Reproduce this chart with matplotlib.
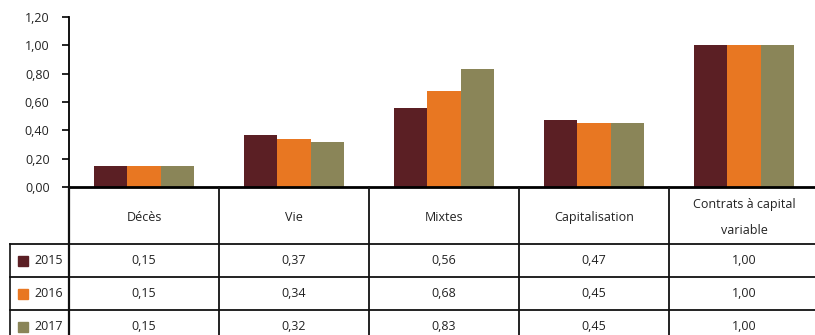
import numpy as np
import matplotlib.pyplot as plt

plt.rcParams['font.family'] = ['Open Sans', 'DejaVu Sans']

# Data
categories = ["Décès", "Vie", "Mixtes", "Capitalisation", "Contrats à capital\nvariable"]
years = ["2015", "2016", "2017"]
v2015 = [0.15, 0.37, 0.56, 0.47, 1.00]
v2016 = [0.15, 0.34, 0.68, 0.45, 1.00]
v2017 = [0.15, 0.32, 0.83, 0.45, 1.00]
colors = ["#5B1F24", "#E87722", "#8A8558"]

W, H = 815, 335
fig = plt.figure(figsize=(W / 100, H / 100), dpi=100)

# chart axes in pixel layout
x0, x1 = 69, 819
ytop, ybot = 17, 187
ax = fig.add_axes([x0 / W, 1 - ybot / H, (x1 - x0) / W, (ybot - ytop) / H])

n = len(categories)
x = np.arange(n)
bw = 0.222
for i, vals in enumerate([v2015, v2016, v2017]):
    ax.bar(x + (i - 1) * bw, vals, width=bw, color=colors[i], edgecolor="none")

ax.set_xlim(-0.5, n - 0.5)
ax.set_ylim(0, 1.2)
ax.set_yticks(np.arange(0, 1.21, 0.2))
ax.set_yticklabels([f"{t:.2f}".replace(".", ",") for t in np.arange(0, 1.21, 0.2)],
                   fontsize=9, color="#222222")
ax.set_xticks([])
ax.tick_params(axis="y", length=5, width=1.2, direction="out", pad=9)
for s in ["top", "right"]:
    ax.spines[s].set_visible(False)
ax.spines["left"].set_linewidth(1.3)
ax.spines["bottom"].set_linewidth(2)

# table drawn in pixel coordinates
tb = fig.add_axes([0, 0, 1, 1], facecolor="none")
tb.set_xlim(0, W)
tb.set_ylim(H, 0)
tb.axis("off")

col_w = (x1 - x0) / n
row_top = 244
row_h = 33
lc = "#111111"
# vertical lines
tb.plot([x0, x0], [ybot, H], color=lc, lw=1.6)
tb.plot([10, 10], [row_top, H], color=lc, lw=1.2)
for k in range(1, n + 1):
    xv = x0 + k * col_w
    tb.plot([xv, xv], [ybot, H], color=lc, lw=1.3)
# horizontal lines
for r in range(3):
    yv = row_top + r * row_h
    tb.plot([10, W], [yv, yv], color=lc, lw=1.3)

# header text
for k, cat in enumerate(categories):
    tb.text(x0 + (k + 0.5) * col_w, (ybot + row_top) / 2 + 2, cat, ha="center", va="center",
            fontsize=9, color="#222222", linespacing=2.3)

# rows
for r, (yr, vals) in enumerate(zip(years, [v2015, v2016, v2017])):
    yc = row_top + (r + 0.5) * row_h
    tb.add_patch(plt.Rectangle((18, yc - 5), 10, 10, color=colors[r]))
    tb.text(34, yc, yr, ha="left", va="center", fontsize=9, color="#222222")
    for k, v in enumerate(vals):
        tb.text(x0 + (k + 0.5) * col_w, yc, f"{v:.2f}".replace(".", ","), ha="center",
                va="center", fontsize=9, color="#222222")

fig.savefig("out.png", dpi=100)
